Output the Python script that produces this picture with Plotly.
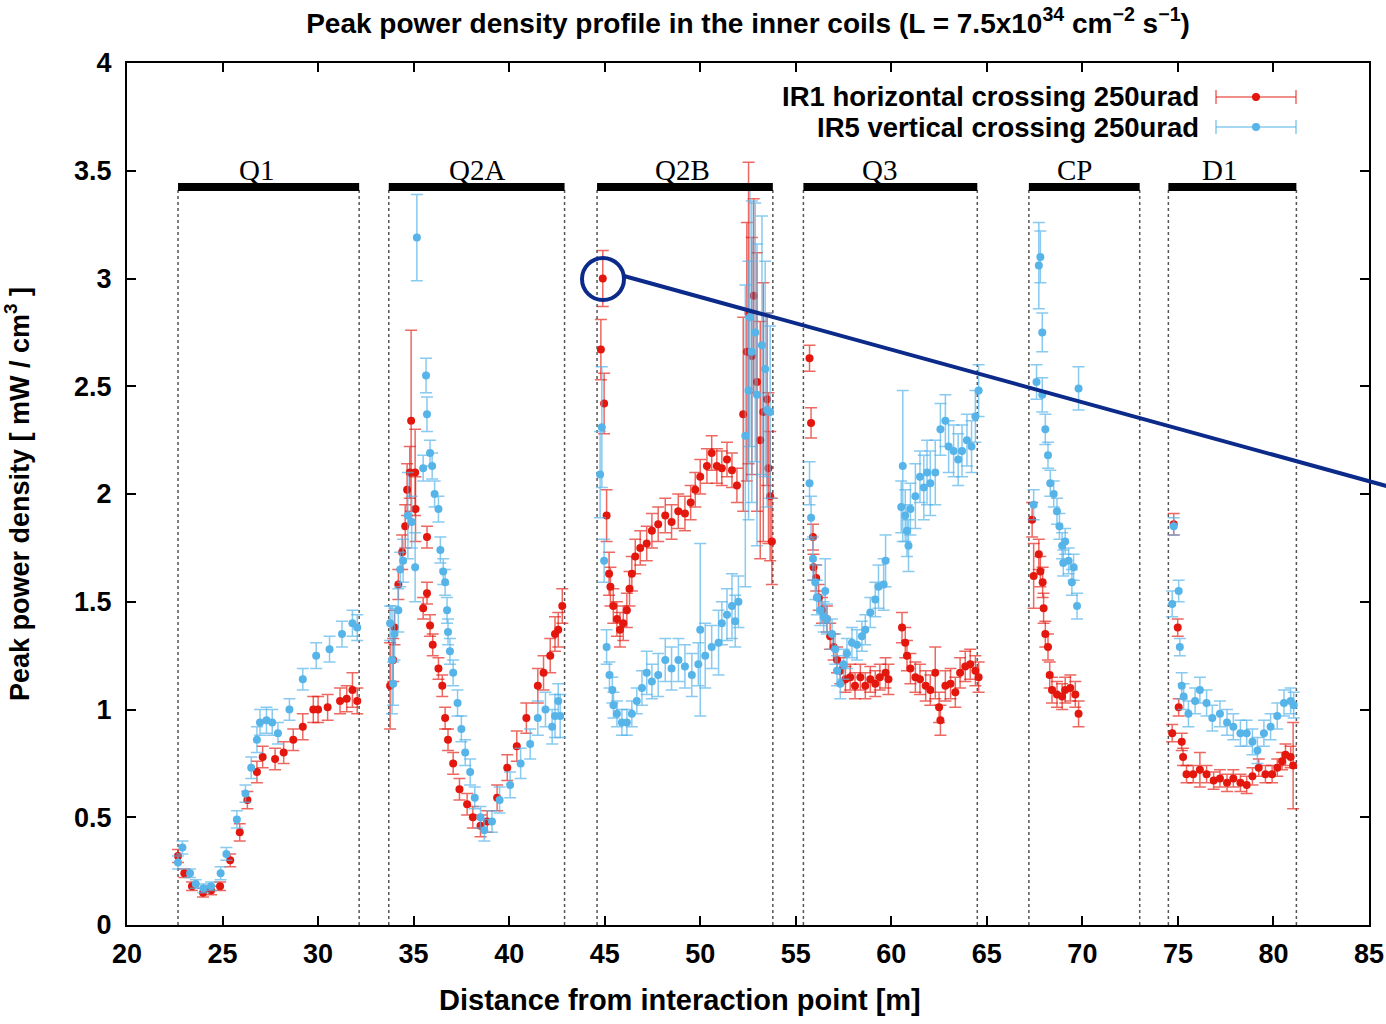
import plotly.graph_objects as go

# ---------------- data ----------------
# IR1 horizontal crossing (red)
ir1_x = [22.67, 23.0, 23.4, 23.98, 24.4, 24.87, 25.4, 25.9, 26.3, 26.8, 27.1, 27.75, 28.2, 28.7, 29.2, 29.75, 30.0, 30.5, 31.15, 31.5, 31.8, 32.05,
         33.77, 33.93, 34.0, 34.2, 34.4, 34.56, 34.66, 34.8, 34.87, 35.08, 35.1, 35.5, 35.7, 35.7, 35.86, 36.0, 36.3, 36.5, 36.65, 36.8, 37.07, 37.4, 37.8, 38.1, 38.5, 38.85, 39.37, 39.9, 40.4, 40.9, 41.5, 41.8, 42.15, 42.4, 42.57, 42.78,
         44.9, 44.8, 44.97, 45.1, 45.23, 45.3, 45.45, 45.64, 45.8, 45.97, 46.16, 46.3, 46.42, 46.6, 46.86, 47.2, 47.47, 47.8, 48.17, 48.5, 48.85, 49.2, 49.5, 49.74, 50.0, 50.35, 50.6, 50.87, 51.13, 51.4, 51.66, 51.92, 52.25, 52.44, 52.53, 52.7, 52.8, 52.97, 53.14, 53.3, 53.5, 53.57, 53.66, 53.75,
         55.72, 55.8, 55.9, 55.93, 56.07, 56.2, 56.37, 56.63, 56.8, 56.98, 57.16, 57.33, 57.6, 57.85, 58.1, 58.38, 58.64, 58.9, 59.16, 59.4, 59.7, 59.85, 60.56, 60.73, 60.82, 61.0, 61.26, 61.5, 61.8, 62.04, 62.3, 62.5, 62.57, 62.83, 63.1, 63.35, 63.6, 63.87, 64.13, 64.4, 64.57,
         67.37, 67.45, 67.72, 67.8, 67.92, 67.97, 68.06, 68.2, 68.29, 68.41, 68.67, 68.94, 69.1, 69.37, 69.63, 69.8,
         74.7, 74.78, 74.99, 75.04, 75.2, 75.27, 75.45, 75.8, 76.15, 76.5, 76.87, 77.2, 77.57, 77.9, 78.27, 78.6, 78.9, 79.23, 79.58, 79.93, 80.2, 80.45, 80.63, 80.9, 81.03]
ir1_y = [0.32, 0.24, 0.18, 0.15, 0.16, 0.18, 0.30, 0.43, 0.58, 0.71, 0.78, 0.77, 0.80, 0.86, 0.92, 1.00, 1.00, 1.01, 1.04, 1.05, 1.09, 1.04,
         1.11, 1.23, 1.38, 1.58, 1.73, 1.85, 2.02, 2.10, 2.34, 2.10, 1.93, 1.47, 1.80, 1.54, 1.39, 1.30, 1.19, 1.11, 0.96, 0.86, 0.75, 0.63, 0.56, 0.50, 0.46, 0.48, 0.59, 0.73, 0.83, 0.96, 1.11, 1.17, 1.25, 1.35, 1.37, 1.48,
         3.00, 2.67, 2.42, 1.90, 1.63, 1.57, 1.48, 1.42, 1.37, 1.40, 1.46, 1.56, 1.63, 1.71, 1.75, 1.77, 1.83, 1.86, 1.90, 1.87, 1.92, 1.91, 1.96, 2.02, 2.08, 2.13, 2.19, 2.13, 2.12, 2.16, 2.11, 2.04, 2.37, 2.66, 2.84, 2.64, 2.92, 2.52, 2.25, 2.38, 2.44, 2.12, 1.99, 1.78,
         2.63, 2.33, 1.80, 1.66, 1.61, 1.52, 1.46, 1.42, 1.34, 1.29, 1.23, 1.18, 1.14, 1.15, 1.11, 1.15, 1.11, 1.14, 1.12, 1.15, 1.17, 1.14, 1.38, 1.31, 1.25, 1.19, 1.15, 1.14, 1.11, 1.09, 1.17, 1.01, 0.95, 1.11, 1.12, 1.08, 1.17, 1.20, 1.21, 1.18, 1.15,
         1.88, 1.62, 1.72, 1.64, 1.59, 1.47, 1.35, 1.29, 1.16, 1.09, 1.07, 1.06, 1.09, 1.10, 1.07, 0.98,
         0.89, 1.86, 1.38, 1.01, 0.85, 0.78, 0.70, 0.70, 0.72, 0.70, 0.67, 0.68, 0.66, 0.68, 0.66, 0.65, 0.69, 0.73, 0.70, 0.70, 0.73, 0.76, 0.79, 0.78, 0.74]
ir1_err = [0.03, 0.02, 0.02, 0.02, 0.02, 0.02, 0.03, 0.04, 0.04, 0.05, 0.05, 0.05, 0.05, 0.05, 0.06, 0.06, 0.06, 0.06, 0.06, 0.06, 0.08, 0.06,
           0.20, 0.10, 0.08, 0.07, 0.08, 0.10, 0.12, 0.12, 0.42, 0.20, 0.15, 0.05, 0.05, 0.05, 0.05, 0.05, 0.05, 0.05, 0.05, 0.05, 0.05, 0.05, 0.05, 0.05, 0.05, 0.05, 0.06, 0.06, 0.07, 0.07, 0.08, 0.08, 0.08, 0.08, 0.08, 0.08,
           0.13, 0.14, 0.14, 0.12, 0.10, 0.09, 0.08, 0.08, 0.08, 0.08, 0.08, 0.08, 0.08, 0.08, 0.08, 0.08, 0.08, 0.08, 0.08, 0.08, 0.08, 0.08, 0.08, 0.08, 0.08, 0.08, 0.08, 0.08, 0.08, 0.08, 0.08, 0.08, 0.45, 0.60, 0.70, 0.55, 0.45, 0.60, 0.55, 0.60, 0.40, 0.35, 0.30, 0.20,
           0.06, 0.07, 0.06, 0.06, 0.06, 0.06, 0.06, 0.06, 0.06, 0.06, 0.06, 0.06, 0.06, 0.06, 0.06, 0.06, 0.06, 0.06, 0.06, 0.06, 0.07, 0.07, 0.07, 0.07, 0.07, 0.07, 0.07, 0.07, 0.07, 0.07, 0.12, 0.07, 0.07, 0.07, 0.07, 0.07, 0.07, 0.07, 0.07, 0.07, 0.07,
           0.08, 0.15, 0.07, 0.07, 0.07, 0.07, 0.06, 0.06, 0.06, 0.06, 0.06, 0.06, 0.06, 0.06, 0.06, 0.06,
           0.04, 0.05, 0.04, 0.04, 0.04, 0.04, 0.04, 0.04, 0.08, 0.04, 0.04, 0.04, 0.04, 0.04, 0.04, 0.04, 0.04, 0.04, 0.04, 0.04, 0.04, 0.04, 0.05, 0.05, 0.20]

# IR5 vertical crossing (blue)
ir5_x = [22.67, 22.9, 23.3, 23.6, 24.0, 24.4, 24.9, 25.2, 25.75, 26.2, 26.5, 26.8, 26.96, 27.3, 27.6, 27.9, 28.5, 29.2, 29.9, 30.6, 31.25, 31.8, 32.05,
         33.77, 33.87, 33.93, 34.0, 34.2, 34.3, 34.45, 34.7, 34.9, 35.08, 35.17, 35.5, 35.65, 35.7, 35.86, 35.97, 36.1, 36.3, 36.4, 36.55, 36.65, 36.75, 36.8, 36.9, 37.07, 37.3, 37.5, 37.7, 37.96, 38.2, 38.5, 38.7, 39.1, 39.5, 40.05, 40.6, 41.1, 41.5, 41.9, 42.25, 42.4, 42.57, 42.67,
         44.85, 44.76, 44.97, 45.1, 45.25, 45.4, 45.46, 45.64, 45.9, 46.16, 46.42, 46.68, 46.95, 47.2, 47.47, 47.8, 48.17, 48.5, 48.86, 49.2, 49.56, 49.9, 50.0, 50.26, 50.6, 50.96, 51.13, 51.4, 51.66, 51.83, 52.0, 52.36, 52.53, 52.6, 52.7, 52.88, 52.97, 53.23, 53.4, 53.5, 53.66,
         55.72, 55.8, 55.9, 56.02, 56.1, 56.28, 56.46, 56.54, 56.63, 56.9, 57.07, 57.16, 57.33, 57.5, 57.68, 57.94, 58.2, 58.46, 58.64, 58.9, 59.16, 59.33, 59.6, 59.7, 60.52, 60.6, 60.73, 60.82, 60.9, 61.0, 61.26, 61.5, 61.7, 61.87, 62.04, 62.3, 62.57, 62.83, 63.0, 63.26, 63.5, 63.7, 63.96, 64.2, 64.4, 64.57,
         67.45, 67.6, 67.72, 67.8, 67.9, 67.9, 68.06, 68.2, 68.32, 68.5, 68.67, 68.8, 68.94, 69.0, 69.1, 69.28, 69.45, 69.54, 69.72, 69.8,
         74.7, 74.78, 75.04, 75.1, 75.2, 75.3, 75.55, 75.9, 76.15, 76.5, 76.8, 77.2, 77.57, 77.9, 78.27, 78.6, 78.9, 79.16, 79.5, 79.85, 80.2, 80.55, 80.9, 81.06]
ir5_y = [0.29, 0.36, 0.24, 0.19, 0.17, 0.18, 0.24, 0.33, 0.49, 0.61, 0.73, 0.86, 0.94, 0.95, 0.94, 0.89, 1.00, 1.14, 1.25, 1.28, 1.35, 1.40, 1.38,
         1.40, 1.23, 1.12, 1.35, 1.46, 1.65, 1.69, 1.90, 1.87, 1.66, 3.19, 2.12, 2.55, 2.37, 2.19, 2.13, 2.00, 1.93, 1.74, 1.64, 1.59, 1.46, 1.36, 1.27, 1.17, 1.03, 0.91, 0.80, 0.71, 0.59, 0.50, 0.44, 0.48, 0.58, 0.65, 0.75, 0.84, 0.96, 1.00, 0.92, 0.97, 1.04, 0.97,
         2.31, 2.09, 1.69, 1.29, 1.16, 1.09, 1.02, 0.98, 0.94, 0.94, 0.98, 1.04, 1.10, 1.17, 1.13, 1.16, 1.23, 1.19, 1.23, 1.20, 1.16, 1.21, 1.37, 1.25, 1.29, 1.31, 1.40, 1.44, 1.48, 1.41, 1.50, 2.27, 2.48, 2.82, 2.66, 2.75, 2.46, 2.69, 2.58, 2.39, 2.38,
         2.05, 1.89, 1.70, 1.59, 1.52, 1.46, 1.43, 1.55, 1.42, 1.35, 1.28, 1.18, 1.12, 1.21, 1.26, 1.31, 1.30, 1.34, 1.37, 1.45, 1.51, 1.57, 1.58, 1.69, 1.94, 2.13, 1.90, 1.83, 1.76, 1.93, 1.99, 2.08, 2.03, 2.10, 2.05, 2.10, 2.30, 2.34, 2.22, 2.20, 2.16, 2.20, 2.25, 2.22, 2.36, 2.48,
         1.95, 2.52, 3.06, 3.10, 2.75, 2.46, 2.30, 2.18, 2.05, 2.00, 1.92, 1.85, 1.76, 1.68, 1.78, 1.69, 1.59, 1.66, 1.48, 2.49,
         1.49, 1.85, 1.55, 1.29, 1.11, 1.06, 0.98, 1.04, 1.09, 1.03, 0.96, 0.98, 0.94, 0.92, 0.89, 0.89, 0.85, 0.81, 0.89, 0.92, 0.97, 1.03, 1.04, 1.02]
ir5_err = [0.03, 0.03, 0.02, 0.02, 0.02, 0.02, 0.03, 0.03, 0.04, 0.04, 0.05, 0.06, 0.06, 0.06, 0.06, 0.05, 0.05, 0.05, 0.06, 0.06, 0.06, 0.06, 0.06,
           0.08, 0.25, 0.10, 0.12, 0.10, 0.08, 0.10, 0.20, 0.12, 0.16, 0.20, 0.06, 0.08, 0.08, 0.06, 0.06, 0.06, 0.06, 0.06, 0.06, 0.06, 0.06, 0.06, 0.06, 0.06, 0.06, 0.06, 0.06, 0.06, 0.05, 0.05, 0.05, 0.05, 0.06, 0.06, 0.07, 0.07, 0.08, 0.08, 0.08, 0.10, 0.08, 0.10,
           0.28, 0.20, 0.10, 0.08, 0.06, 0.06, 0.06, 0.06, 0.06, 0.06, 0.06, 0.06, 0.08, 0.10, 0.08, 0.10, 0.10, 0.10, 0.10, 0.10, 0.10, 0.10, 0.40, 0.15, 0.10, 0.15, 0.10, 0.12, 0.15, 0.12, 0.12, 0.70, 0.60, 0.60, 0.70, 0.60, 0.70, 0.60, 0.50, 0.45, 0.40,
           0.10, 0.10, 0.10, 0.08, 0.08, 0.07, 0.07, 0.15, 0.07, 0.07, 0.07, 0.07, 0.07, 0.07, 0.07, 0.07, 0.07, 0.07, 0.07, 0.07, 0.08, 0.10, 0.12, 0.12, 0.12, 0.35, 0.12, 0.12, 0.12, 0.12, 0.15, 0.12, 0.15, 0.15, 0.15, 0.15, 0.12, 0.12, 0.12, 0.12, 0.12, 0.12, 0.12, 0.12, 0.12, 0.12,
           0.07, 0.08, 0.20, 0.12, 0.09, 0.08, 0.07, 0.06, 0.06, 0.06, 0.06, 0.06, 0.06, 0.06, 0.06, 0.06, 0.06, 0.06, 0.06, 0.10,
           0.06, 0.04, 0.05, 0.04, 0.06, 0.06, 0.06, 0.06, 0.06, 0.06, 0.06, 0.06, 0.06, 0.06, 0.06, 0.06, 0.06, 0.06, 0.06, 0.06, 0.06, 0.06, 0.06, 0.06]

# magnet segments
magnets = ["Q1", "Q2A", "Q2B", "Q3", "CP", "D1"]
mag_start = [22.67, 33.7, 44.6, 55.4, 67.2, 74.5]
mag_end = [32.15, 42.9, 53.8, 64.5, 73.0, 81.2]
mag_label_x = [26.8, 38.3, 49.06, 59.37, 69.6, 77.2]
mag_bar_y = 3.425

x_ticks = [20, 25, 30, 35, 40, 45, 50, 55, 60, 65, 70, 75, 80, 85]
y_ticks = [0, 0.5, 1, 1.5, 2, 2.5, 3, 3.5, 4]
y_tick_text = ["0", "0.5", "1", "1.5", "2", "2.5", "3", "3.5", "4"]

series_names = ["IR1 horizontal crossing 250urad", "IR5 vertical crossing 250urad"]
RED = "#e3170d"
BLUE = "#56b4e9"
RED_E = "rgba(227,23,13,0.65)"
BLUE_E = "rgba(86,180,233,0.7)"

# ---------------- figure ----------------
W, H = 1386, 1024
L, R, T, B = 127, 17, 63, 99
PW, PH = W - L - R, H - T - B

def px2paper(px, py):
    return (px - L) / PW, (H - B - py) / PH

fig = go.Figure()
for xs, ys, es, col, ecol, nm in [
    (ir1_x, ir1_y, ir1_err, RED, RED_E, series_names[0]),
    (ir5_x, ir5_y, ir5_err, BLUE, BLUE_E, series_names[1]),
]:
    fig.add_trace(go.Scatter(
        x=xs, y=ys, mode="markers", name=nm, showlegend=False,
        marker=dict(color=col, size=8, line=dict(width=0)),
        error_y=dict(type="data", array=es, visible=True, color=ecol, thickness=1.5, width=6),
    ))

shapes = []
annotations = []
for nm, x0, x1, xl in zip(magnets, mag_start, mag_end, mag_label_x):
    shapes.append(dict(type="line", xref="x", yref="y", x0=x0, x1=x1, y0=mag_bar_y, y1=mag_bar_y,
                       line=dict(color="black", width=8), layer="above"))
    for xv in (x0, x1):
        shapes.append(dict(type="line", xref="x", yref="y", x0=xv, x1=xv, y0=0, y1=mag_bar_y,
                           line=dict(color="#555555", width=1.5, dash="dot"), layer="below"))
    annotations.append(dict(x=xl, y=mag_bar_y, xref="x", yref="y", text=nm, showarrow=False,
                            font=dict(family="Liberation Serif", size=29, color="black"),
                            yanchor="middle", yshift=17))

# custom legend (gnuplot style: text right-aligned, sample on the right)
for i, (nm, col, ecol) in enumerate([(series_names[0], RED, RED_E), (series_names[1], BLUE, BLUE_E)]):
    py = 97 + 30 * i
    xa, ya = px2paper(1201, py)
    annotations.append(dict(x=xa, y=ya, xref="paper", yref="paper", text=nm, showarrow=False,
                            xanchor="right", yanchor="middle",
                            font=dict(family="Liberation Sans", size=27.5, color="black", weight="bold")))
    lx0, ly = px2paper(1216, py)
    lx1, _ = px2paper(1296, py)
    shapes.append(dict(type="line", xref="paper", yref="paper", x0=lx0, x1=lx1, y0=ly, y1=ly,
                       line=dict(color=ecol, width=1.5)))
    for cx in (1216, 1296):
        cxp, cy0 = px2paper(cx, py - 7)
        _, cy1 = px2paper(cx, py + 7)
        shapes.append(dict(type="line", xref="paper", yref="paper", x0=cxp, x1=cxp, y0=cy0, y1=cy1,
                           line=dict(color=ecol, width=1.5)))
    mx0, my0 = px2paper(1252, py + 4)
    mx1, my1 = px2paper(1260, py - 4)
    shapes.append(dict(type="circle", xref="paper", yref="paper", x0=mx0, x1=mx1, y0=my0, y1=my1,
                       fillcolor=col, line=dict(color=col, width=0)))

# x-axis label (placed like the reference, slightly left of plot centre)
xt, yt = px2paper(680, 1000)
annotations.append(dict(x=xt, y=yt, xref="paper", yref="paper", text="Distance from interaction point [m]",
                        showarrow=False, xanchor="center", yanchor="middle",
                        font=dict(family="Liberation Sans", size=29, color="black", weight="bold")))

# highlight circle and pointer line
NAVY = "#0c2a8a"
c0x, c0y = px2paper(582, 300)
c1x, c1y = px2paper(624, 258)
shapes.append(dict(type="circle", xref="paper", yref="paper", x0=c0x, x1=c1x, y0=c0y, y1=c1y,
                   line=dict(color=NAVY, width=4)))
p0x, p0y = px2paper(624, 276)
p1x, p1y = px2paper(1390, 487)
shapes.append(dict(type="line", xref="paper", yref="paper", x0=p0x, x1=p1x, y0=p0y, y1=p1y,
                   line=dict(color=NAVY, width=4)))

axis_common = dict(showline=True, linecolor="black", linewidth=2, mirror="allticks", ticks="inside",
                   ticklen=9, tickwidth=1.5, tickcolor="black", showgrid=False, zeroline=False,
                   automargin=False,
                   tickfont=dict(family="Liberation Sans", size=27, color="black", weight="bold"))

fig.update_layout(
    template="none",
    width=W, height=H, margin=dict(l=L, r=R, t=T, b=B, autoexpand=False),
    paper_bgcolor="white", plot_bgcolor="white",
    title=dict(text="Peak power density profile in the inner coils (L = 7.5x10<sup>34</sup> cm<sup>\u22122</sup> s<sup>\u22121</sup>)",
               x=748 / W, xanchor="center", y=1 - 23 / H, yanchor="middle",
               font=dict(family="Liberation Sans", size=28, color="black", weight="bold")),
    xaxis=dict(range=[20, 85], tickvals=x_ticks, ticktext=[str(v) for v in x_ticks], ticklabelstandoff=4,
               **axis_common),
    yaxis=dict(range=[0, 4], tickvals=y_ticks, ticktext=y_tick_text, ticklabelstandoff=8,
               title=dict(text="Peak power density [ mW / cm<sup>3</sup> ]", standoff=37,
                          font=dict(family="Liberation Sans", size=27, color="black", weight="bold")),
               **axis_common),
    shapes=shapes, annotations=annotations,
)

fig.write_html("out.html")
